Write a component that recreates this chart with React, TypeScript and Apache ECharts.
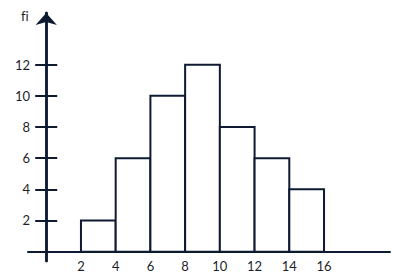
import React, { useEffect, useRef } from "react";
import * as echarts from "echarts";

const binStarts = [2, 4, 6, 8, 10, 12, 14];
const binEnds = [4, 6, 8, 10, 12, 14, 16];
const frequencies = [2, 6, 10, 12, 8, 6, 4];
const xTickLabels = [2, 4, 6, 8, 10, 12, 14, 16];
const yTickLabels = [2, 4, 6, 8, 10, 12];
const yAxisTitle = "fi";

const LINE = "#0d1a31";
const TEXT = "#1d1f2a";
const FONT = "Lato, 'Open Sans', sans-serif";

export default function App() {
  const ref = useRef<HTMLDivElement>(null);
  useEffect(() => {
    if (!ref.current) return;
    const chart = echarts.init(ref.current, undefined, { renderer: "svg" });
    const data = binStarts.map((s, i) => [s, binEnds[i], frequencies[i]]);
    chart.setOption({
      animation: false,
      backgroundColor: "#ffffff",
      grid: { left: 28, right: 12, top: 13, bottom: 17, outerBoundsMode: "none", containLabel: false },
      xAxis: {
        type: "value",
        min: -1.05,
        max: 19.8,
        axisLine: { show: true, onZero: true, lineStyle: { color: LINE, width: 2 } },
        axisTick: { show: false },
        splitLine: { show: false },
        axisLabel: {
          customValues: xTickLabels,
          margin: -2,
          fontSize: 13,
          color: TEXT,
          fontFamily: FONT,
        },
      },
      yAxis: [
        {
          type: "value",
          min: -0.6,
          max: 15.32,
          position: "left",
          axisLine: {
            show: true,
            onZero: true,
            onZeroAxisIndex: 0,
            symbol: ["none", "arrow"],
            symbolSize: [16, 12],
            lineStyle: { color: LINE, width: 2.5 },
          },
          axisTick: {
            show: true,
            customValues: yTickLabels,
            length: 11,
            lineStyle: { color: LINE, width: 2 },
          },
          splitLine: { show: false },
          axisLabel: {
            customValues: yTickLabels,
            margin: -2,
            fontSize: 13,
            color: TEXT,
            fontFamily: FONT,
          },
        },
        {
          type: "value",
          min: -0.6,
          max: 15.32,
          position: "right",
          axisLine: {
            show: true,
            onZero: true,
            onZeroAxisIndex: 0,
            lineStyle: { color: LINE, width: 2.5 },
          },
          axisTick: {
            show: true,
            customValues: yTickLabels,
            length: 11,
            lineStyle: { color: LINE, width: 2 },
          },
          splitLine: { show: false },
          axisLabel: { show: false },
        },
      ],
      graphic: [
        {
          type: "text",
          left: 21,
          top: 9,
          style: { text: yAxisTitle, fontSize: 13, fill: TEXT, fontFamily: FONT },
        },
      ],
      series: [
        {
          type: "custom",
          xAxisIndex: 0,
          yAxisIndex: 0,
          data,
          encode: { x: [0, 1], y: 2 },
          renderItem: (params: any, api: any) => {
            const p0 = api.coord([api.value(0), api.value(2)]);
            const p1 = api.coord([api.value(1), 0]);
            return {
              type: "rect",
              shape: { x: p0[0], y: p0[1], width: p1[0] - p0[0], height: p1[1] - p0[1] },
              style: { fill: "#ffffff", stroke: LINE, lineWidth: 2 },
            };
          },
        },
      ],
    });
    return () => chart.dispose();
  }, []);
  return (
    <>
      <style>{"svg text { font-variant-ligatures: none; font-feature-settings: 'liga' 0; }"}</style>
      <div
        ref={ref}
        style={{ position: "absolute", left: 0, top: 0, width: 402, height: 278 }}
      />
    </>
  );
}
